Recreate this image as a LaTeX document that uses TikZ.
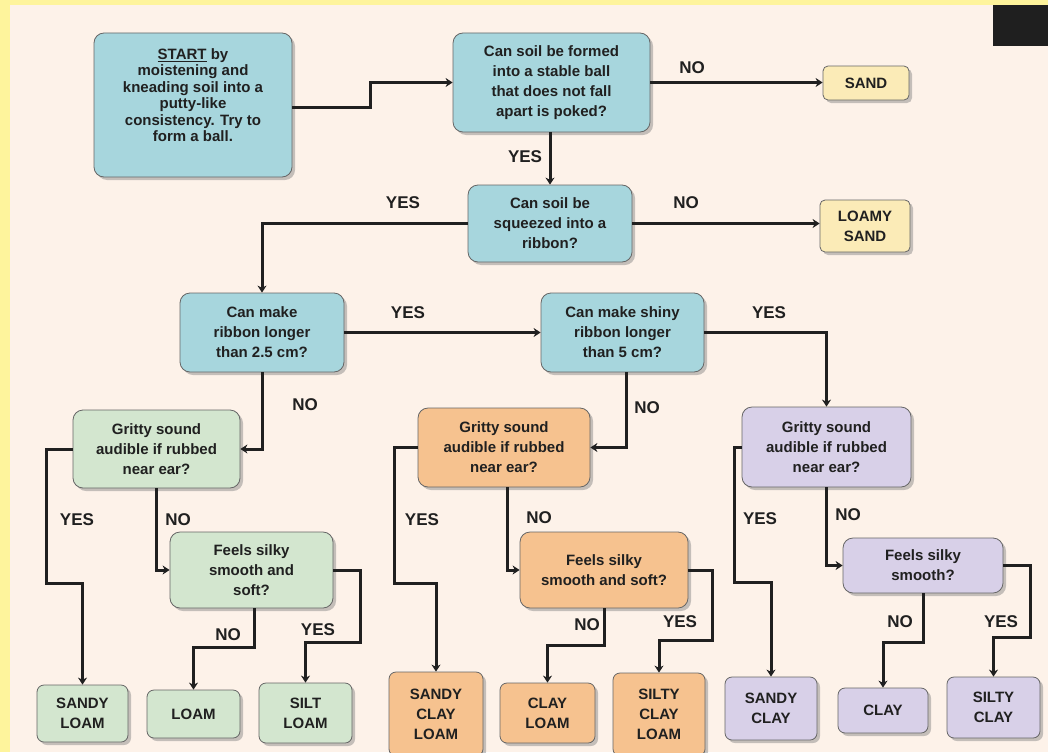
\documentclass[tikz,border=0pt]{standalone}
\usepackage{fontspec}
\setmainfont{Liberation Sans}
\usepackage{tikz}
\usetikzlibrary{arrows.meta,shadows}
\definecolor{frameyellow}{HTML}{FEF49C}
\definecolor{paper}{HTML}{FDF2E9}
\definecolor{askblue}{HTML}{A7D6DD}
\definecolor{soilgreen}{HTML}{D3E6CF}
\definecolor{soilorange}{HTML}{F6C28F}
\definecolor{soilpurple}{HTML}{D8D0E8}
\definecolor{soilyellow}{HTML}{FBEBB7}
\definecolor{ink}{HTML}{202020}
\tikzset{
    soilbox/.style={draw=black!60, line width=0.8pt, rounded corners=10pt, align=center,
        inner sep=0pt, text=ink, font=\bfseries\fontsize{15}{20}\selectfont,
        drop shadow={shadow xshift=3pt, shadow yshift=-3pt, fill=black!50, opacity=0.45}},
    ask/.style={soilbox, fill=askblue},
    leaf/.style={soilbox, rounded corners=7pt},
    link/.style={draw=ink, line width=3pt, -{Stealth[length=7pt,width=9pt]}},
    reply/.style={text=ink, inner sep=0pt, font=\bfseries\fontsize{17}{20}\selectfont}
}
\newcommand{\reply}[3]{
    \node[reply] (#1) at (#2) {#3};
}

\begin{document}
\begin{tikzpicture}[x=1pt,y=-1pt]
    \useasboundingbox (0,0) rectangle (1048,752);
    \clip (0,0) rectangle (1048,752);
    \fill[frameyellow] (0,0) rectangle (1048,752);
    \fill[paper] (10,5) rectangle (1048,752);
    \fill[black!88] (993,5) rectangle (1048,46);

    % questions
    \node[ask, minimum width=198, minimum height=144, text depth=20pt,
        font=\bfseries\fontsize{15}{16.5}\selectfont]
        (start) at (193,105) {\underline{START} by\\moistening and\\kneading soil into a\\putty-like\\consistency. Try to\\form a ball.};
    \node[ask, minimum width=197, minimum height=99] (q1) at (551.5,82.5)
        {Can soil be formed\\into a stable ball\\that does not fall\\apart is poked?};
    \node[ask, minimum width=164, minimum height=77] (q2) at (550,223.5)
        {Can soil be\\squeezed into a\\ribbon?};
    \node[ask, minimum width=164, minimum height=79] (q3) at (262,332.5)
        {Can make\\ribbon longer\\than 2.5 cm?};
    \node[ask, minimum width=163, minimum height=79] (q4) at (622.5,332.5)
        {Can make shiny\\ribbon longer\\than 5 cm?};

    % early answers
    \node[leaf, fill=soilyellow, rounded corners=5pt, minimum width=86, minimum height=34] (sand) at (866,83) {SAND};
    \node[leaf, fill=soilyellow, rounded corners=5pt, minimum width=90, minimum height=52] (loamysand) at (865,226) {LOAMY\\SAND};

    % green branch
    \node[soilbox, fill=soilgreen, minimum width=167, minimum height=78] (gs1) at (156.5,449)
        {Gritty sound\\audible if rubbed\\near ear?};
    \node[soilbox, fill=soilgreen, minimum width=163, minimum height=76] (fs1) at (251.5,570)
        {Feels silky\\smooth and\\soft?};
    \node[leaf, fill=soilgreen, minimum width=91, minimum height=57] (sandyloam) at (82.5,713.5) {SANDY\\LOAM};
    \node[leaf, fill=soilgreen, minimum width=93, minimum height=48] (loam) at (193.5,714) {LOAM};
    \node[leaf, fill=soilgreen, minimum width=93, minimum height=60] (siltloam) at (305.5,713) {SILT\\LOAM};

    % orange branch
    \node[soilbox, fill=soilorange, minimum width=172, minimum height=79] (gs2) at (504,447.5)
        {Gritty sound\\audible if rubbed\\near ear?};
    \node[soilbox, fill=soilorange, minimum width=168, minimum height=76] (fs2) at (604,570)
        {Feels silky\\smooth and soft?};
    \node[leaf, fill=soilorange, minimum width=94, minimum height=84] (sandyclayloam) at (436,714) {SANDY\\CLAY\\LOAM};
    \node[leaf, fill=soilorange, minimum width=95, minimum height=60] (clayloam) at (547.5,713) {CLAY\\LOAM};
    \node[leaf, fill=soilorange, minimum width=92, minimum height=83] (siltyclayloam) at (659,714.5) {SILTY\\CLAY\\LOAM};

    % purple branch
    \node[soilbox, fill=soilpurple, minimum width=169, minimum height=80] (gs3) at (826.5,447)
        {Gritty sound\\audible if rubbed\\near ear?};
    \node[soilbox, fill=soilpurple, minimum width=160, minimum height=55] (fs3) at (923,565.5)
        {Feels silky\\smooth?};
    \node[leaf, fill=soilpurple, minimum width=92, minimum height=63] (sandyclay) at (771,708.5) {SANDY\\CLAY};
    \node[leaf, fill=soilpurple, minimum width=90, minimum height=45] (clay) at (883,710.5) {CLAY};
    \node[leaf, fill=soilpurple, minimum width=93, minimum height=61] (siltyclay) at (993.5,707.5) {SILTY\\CLAY};

    % connectors
    \draw[link] ([yshift=-2pt]start.east) -- ++(78,0) |- (q1.west);
    \draw[link] (q1.east) -- (q1.east -| sand.west);
    \draw[link] (q1.south -| q2.north) -- (q2.north);
    \draw[link] (q2.east) -- (q2.east -| loamysand.west);
    \draw[link] (q2.west) -| (q3.north);
    \draw[link] (q3.east) -- (q4.west);
    \draw[link] (q4.east) -| (gs3.north);
    \draw[link] (q3.south) |- (gs1.east);
    \draw[link] ([xshift=4pt]q4.south) |- (gs2.east);

    \draw[link] (gs1.west) -- ++(-26,0) -- ++(0,134) -| (sandyloam.north);
    \draw[link] (gs2.west) -- ++(-23,0) -- ++(0,135.5) -| (sandyclayloam.north);
    \draw[link] (gs3.west) -- ++(-7,0) -- ++(0,135) -| (sandyclay.north);
    \draw[link] (gs1.south) |- (fs1.west);
    \draw[link] ([xshift=3pt]gs2.south) |- (fs2.west);
    \draw[link] (gs3.south) |- (fs3.west);

    \draw[link] ([xshift=3pt]fs1.south) -- ++(0,39) -| (loam.north);
    \draw[link] (fs2.south) -- ++(0,37) -| (clayloam.north);
    \draw[link] (fs3.south) -- ++(0,49) -| (clay.north);
    \draw[link] (fs1.east) -- ++(27,0) -- ++(0,72) -| (siltloam.north);
    \draw[link] (fs2.east) -- ++(24,0) -- ++(0,70) -| (siltyclayloam.north);
    \draw[link] (fs3.east) -- ++(27,0) -- ++(0,72) -| (siltyclay.north);

    % answers on the lines
    \reply{no1}{692,68}{NO}
    \reply{yes1}{525,157}{YES}
    \reply{yes2}{403,203}{YES}
    \reply{no2}{686,203}{NO}
    \reply{yes3}{408,313}{YES}
    \reply{yes4}{769,313}{YES}
    \reply{no3}{305,405}{NO}
    \reply{no4}{647,408}{NO}
    \reply{yes5}{77,520}{YES}
    \reply{no5}{178,520}{NO}
    \reply{no6}{228,635}{NO}
    \reply{yes6}{318,630}{YES}
    \reply{yes7}{422,520}{YES}
    \reply{no7}{539,518}{NO}
    \reply{no8}{587,625}{NO}
    \reply{yes8}{680,622}{YES}
    \reply{yes9}{760,519}{YES}
    \reply{no9}{848,515}{NO}
    \reply{no10}{900,622}{NO}
    \reply{yes10}{1001,622}{YES}
\end{tikzpicture}
\end{document}
